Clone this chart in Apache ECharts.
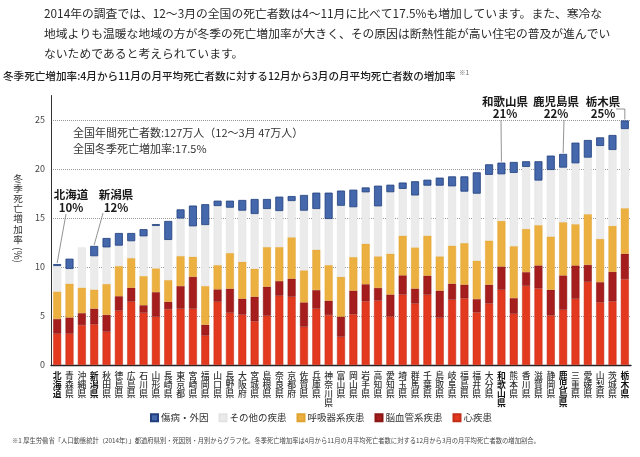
<!DOCTYPE html>
<html>
<head>
<meta charset="utf-8">
<script src="https://cdn.jsdelivr.net/npm/echarts@6/dist/echarts.min.js"></script>
<style>
html,body{margin:0;padding:0;background:#fff;}
#c{width:640px;height:457px;}
</style>
</head>
<body>
<div id="c"></div>
<script>
// ---- data ----
const prefectures = ['北海道','青森県','沖縄県','新潟県','秋田県','徳島県','広島県','石川県','山形県','長崎県',
  '東京都','宮崎県','福岡県','山口県','長野県','大阪府','宮城県','島根県','奈良県','京都府',
  '佐賀県','兵庫県','神奈川県','富山県','岡山県','岩手県','高知県','愛知県','埼玉県','群馬県',
  '千葉県','鳥取県','岐阜県','福島県','福井県','大分県','和歌山県','熊本県','香川県','滋賀県',
  '静岡県','鹿児島県','三重県','愛媛県','山梨県','茨城県','栃木県'];
const highlighted = ['北海道','新潟県','和歌山県','鹿児島県','栃木県'];
const heart = [3.2,3.2,4.07,4.15,3.4,5.55,6.47,5.34,4.94,5.7, 5.75,5.75,3.0,6.46,5.34,5.14,4.46,5.03,7.07,6.97,
  3.91,5.75,5.1,2.89,5.17,6.5,6.58,4.96,7.19,6.27, 7.18,4.83,6.67,6.8,5.37,6.28,7.68,5.23,8.08,7.81,
  5.06,5.64,6.76,8.49,6.39,6.49,8.76];
const cerebro = [1.5,1.65,1.23,1.6,1.72,1.47,1.41,0.76,2.5,0.75, 2.31,3.25,1.11,1.26,2.45,1.63,2.51,2.96,1.5,1.84,
  2.48,1.9,1.46,2.05,2.42,1.74,1.29,2.23,1.96,1.53, 1.94,2.76,1.63,1.4,1.36,1.91,2.37,1.6,1.4,2.35,
  2.62,3.5,3.4,1.73,2.07,3.02,2.59];
const respiratory = [2.8,3.45,2.6,1.95,3.15,3.08,3.03,2.98,2.42,2.22, 3.06,2.05,3.95,2.48,3.64,3.77,2.86,4.05,3.47,4.22,
  3.27,4.12,3.64,4.06,3.43,4.14,3.22,4.17,4.05,4.2, 4.08,3.5,3.88,4.25,3.92,4.51,4.66,5.3,4.41,4.11,
  5.43,5.43,4.21,5.17,4.41,4.69,4.65];
const other = [2.6,1.5,4.1,3.4,3.73,2.08,1.72,4.05,4.33,4.09, 3.83,3.1,6.22,6.02,4.62,5.21,5.58,3.88,3.67,3.7,
  6.09,4.15,4.7,7.25,5.08,5.24,5.1,6.27,4.77,5.3, 5.1,7.21,6.05,5.24,6.83,6.7,4.75,7.47,6.32,4.55,
  6.79,5.57,6.21,5.77,9.48,7.74,8.08];
const injury = [0.2,1.05,0,1.05,0.96,1.29,0.84,0.73,0.19,1.94, 0.93,2.12,2.13,0.55,0.72,1.09,1.53,1.02,1.47,0.51,
  1.6,1.67,2.69,1.55,1.79,0.5,2.11,0.77,0.65,1.45, 0.61,0.82,1.02,1.56,2.18,1.08,1.19,1.12,0.58,1.97,
  1.47,1.4,2.11,1.8,0.88,1.53,0.87];
const seriesNames = ['心疾患','脳血管系疾患','呼吸器系疾患','その他の疾患','傷病・外因'];
const legendOrder = ['傷病・外因','その他の疾患','呼吸器系疾患','脳血管系疾患','心疾患'];
const calloutNames = ['北海道','新潟県','和歌山県','鹿児島県','栃木県'];
const calloutPercents = ['10%','12%','21%','22%','25%'];
const yAxisName = '冬季死亡増加率';

// ---- styles ----
const FONT = '"Noto Sans CJK JP","Noto Sans",sans-serif';
const colors = ['#e2391f','#a51d1c','#ebb03f','#ebebeb','#4567ab'];
const borders = ['#c42c18','#8a1515','#e0a332','#e3e3e3','#203f7c'];
const seriesData = [heart, cerebro, respiratory, other, injury];

const chart = echarts.init(document.getElementById('c'));
const option = {
  animation: false,
  textStyle: {fontFamily: FONT},
  grid: {left: 51, right: 9, top: 95.5, bottom: 92},
  legend: {
    data: legendOrder, left: 150, top: 413, icon: 'rect', itemWidth: 7, itemHeight: 7,
    itemGap: 10, padding: 0, selectedMode: false,
    textStyle: {fontSize: 9.5, color: '#333', fontFamily: FONT, padding: [0, 0, 0, -2]}
  },
  xAxis: {
    type: 'category', data: prefectures,
    axisLine: {lineStyle: {color: '#222', width: 1.3}},
    axisTick: {show: false},
    axisLabel: {
      interval: 0, margin: 6.5,
      formatter: v => {
        const s = v.split('').join('\n');
        return highlighted.includes(v) ? '{b|' + s + '}' : '{n|' + s + '}';
      },
      rich: {
        n: {fontSize: 8.8, lineHeight: 8.8, color: '#333', fontWeight: 500, fontFamily: FONT},
        b: {fontSize: 8.8, lineHeight: 8.8, color: '#111', fontWeight: 'bold', fontFamily: FONT}
      }
    }
  },
  yAxis: {
    type: 'value', min: 0, max: 27.5, interval: 5,
    axisLine: {show: true, lineStyle: {color: '#333', width: 1}},
    axisTick: {show: false},
    axisLabel: {showMaxLabel: false, fontSize: 9, color: '#444', margin: 6},
    splitLine: {showMaxLine: false, showMinLine: false, lineStyle: {type: 'dotted', color: '#999', width: 1}}
  },
  series: seriesNames.map((name, k) => ({
    name, type: 'bar', stack: 'total', barWidth: 8,
    data: seriesData[k].map(v => v === 0 ? '-' : v),
    itemStyle: {color: colors[k], borderColor: borders[k], borderWidth: k === 4 ? 0.8 : 0.5}
  }))
};
chart.setOption(option);

// ---- annotations (leader lines anchored to bar tops via the axes) ----
const totals = prefectures.map((_, i) => heart[i] + cerebro[i] + respiratory[i] + other[i] + injury[i]);
function barTop(name) {
  const i = prefectures.indexOf(name);
  return chart.convertToPixel({gridIndex: 0}, [i, totals[i]]);
}
const labelPos = [[71, 195, 208], [116, 195, 208], [505, 102, 113.5], [556, 102, 113.5], [603, 102, 113.5]];
const lineStart = [[66, 214], [103, 213], [501, 120], [564, 120], null];
const g = [];
function txt(x, y, text, size, weight, color, align) {
  return {type: 'text', x, y, silent: true, style: {text, fontSize: size, fontWeight: weight || 'normal',
    fontFamily: FONT, fill: color || '#222', textAlign: align || 'left', textVerticalAlign: 'middle',
    align: align || 'left', verticalAlign: 'middle'}};
}
calloutNames.forEach((n, k) => {
  const p = labelPos[k];
  g.push(txt(p[0], p[1], n, 11.5, 'bold', '#1a1a1a', 'center'));
  g.push(txt(p[0], p[2], calloutPercents[k], 11.5, 'bold', '#1a1a1a', 'center'));
  const top = barTop(n);
  let pts;
  if (lineStart[k]) pts = [lineStart[k], [top[0], top[1] - 1]];
  else pts = [[616, 109], [top[0], 109], [top[0], top[1] - 1]];
  g.push({type: 'polyline', silent: true, shape: {points: pts}, style: {stroke: '#777', lineWidth: 0.8, fill: null}});
});
// header paragraph
g.push(txt(44, 14, '2014年の調査では、12～3月の全国の死亡者数は4～11月に比べて17.5%も増加しています。また、寒冷な', 11.8, 'normal', '#2a2a2a'));
g.push(txt(44, 34, '地域よりも温暖な地域の方が冬季の死亡増加率が大きく、その原因は断熱性能が高い住宅の普及が進んでい', 11.8, 'normal', '#2a2a2a'));
g.push(txt(44, 54, 'ないためであると考えられています。', 11.8, 'normal', '#2a2a2a'));
g.push(txt(3, 76, '冬季死亡増加率:4月から11月の月平均死亡者数に対する12月から3月の月平均死亡者数の増加率', 10.6, 500, '#1e1e1e'));
g.push(txt(459, 73, '※1', 6.5, 'normal', '#666'));
// national summary
g.push(txt(73, 133, '全国年間死亡者数:127万人（12～3月 47万人）', 11, 'normal', '#333'));
g.push(txt(73, 149, '全国冬季死亡増加率:17.5%', 11, 'normal', '#333'));
// y axis name (vertical, one glyph per line)
yAxisName.split('').forEach((ch, i) => {
  g.push(txt(18, 178 + i * 10.2, ch, 9.6, 'normal', '#333', 'center'));
});
g.push({type: 'text', x: 18, y: 255, rotation: -Math.PI / 2, silent: true, style: {text: '(%)', fontSize: 10,
  fontFamily: FONT, fill: '#333', textAlign: 'center', align: 'center', textVerticalAlign: 'middle', verticalAlign: 'middle'}});
// footnote
g.push(txt(12, 441, '※1 厚生労働省「人口動態統計（2014年）」都道府県別・死因別・月別からグラフ化。冬季死亡増加率は4月から11月の月平均死亡者数に対する12月から3月の月平均死亡者数の増加割合。', 6.3, 'normal', '#444'));
chart.setOption({graphic: {elements: g}});
</script>
</body>
</html>
